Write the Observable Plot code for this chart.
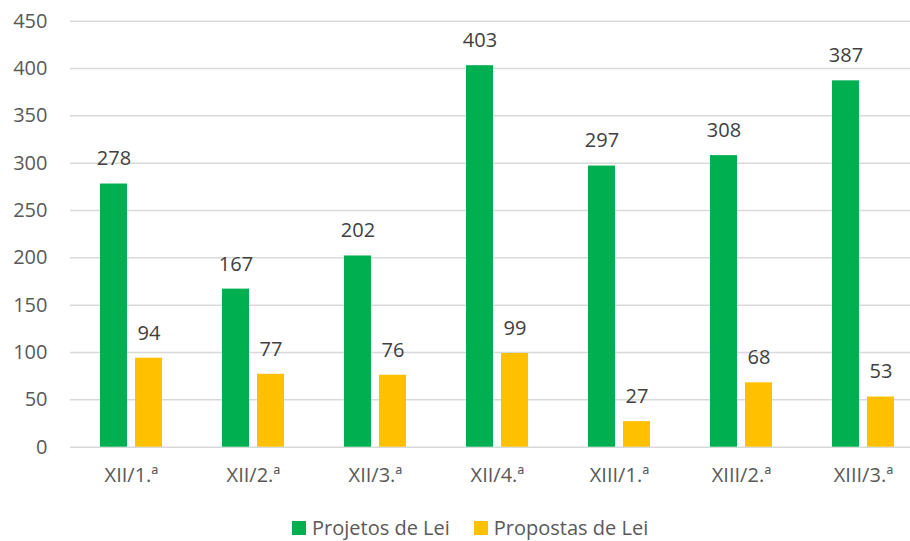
<!DOCTYPE html>
<html>
<head>
<meta charset="utf-8">
<script src="https://cdn.jsdelivr.net/npm/d3@7"></script>
<script src="https://cdn.jsdelivr.net/npm/@observablehq/plot@0.6"></script>
<style>
  body { margin: 0; background: #fff; font-family: "Open Sans", sans-serif; }
  #wrap { position: relative; width: 910px; height: 541px; overflow: hidden; }
  #legend { position: absolute; left: 292px; top: 515px; height: 26px; display: flex; align-items: center; font-size: 20px; line-height: 26px; color: #595959; white-space: nowrap; }
  #legend .sw { display: inline-block; width: 14px; height: 14px; margin-right: 6px; }
  #legend .item { display: flex; align-items: center; margin-right: 24px; }
</style>
</head>
<body>
<div id="wrap"><div id="chart"></div><div id="legend"></div></div>
<script>
const categories = ["XII/1.ª", "XII/2.ª", "XII/3.ª", "XII/4.ª", "XIII/1.ª", "XIII/2.ª", "XIII/3.ª"];
const projetos = [278, 167, 202, 403, 297, 308, 387];
const propostas = [94, 77, 76, 99, 27, 68, 53];
const seriesNames = ["Projetos de Lei", "Propostas de Lei"];
const seriesColors = ["#00B050", "#FFC000"];
const yTicks = [0, 50, 100, 150, 200, 250, 300, 350, 400, 450];

const projRows = categories.map((c, i) => ({cat: c, value: projetos[i]}));
const propRows = categories.map((c, i) => ({cat: c, value: propostas[i]}));

const textColor = "#404040";
const chart = Plot.plot({
  width: 910,
  height: 500,
  marginLeft: 70,
  marginRight: 0,
  marginTop: 20.7,
  marginBottom: 53.3,
  style: {fontFamily: "Open Sans, sans-serif", fontSize: "20px", color: "#595959", background: "#fff"},
  x: {domain: categories, range: [70, 924], padding: 0, label: null},
  y: {domain: [0, 450], label: null},
  marks: [
    Plot.ruleY(yTicks, {stroke: "#d9d9d9", strokeWidth: 1.5}),
    Plot.barY(projRows, {x: "cat", y: "value", fill: seriesColors[0], insetLeft: 30, insetRight: 65}),
    Plot.barY(propRows, {x: "cat", y: "value", fill: seriesColors[1], insetLeft: 65, insetRight: 30}),
    Plot.text(projRows, {x: "cat", y: "value", text: d => String(d.value), dx: -17.5, dy: -25, fontSize: 20, fill: textColor}),
    Plot.text(propRows, {x: "cat", y: "value", text: d => String(d.value), dx: 17.5, dy: -25, fontSize: 20, fill: textColor}),
    Plot.axisY({ticks: yTicks, tickSize: 0, tickPadding: 23, fontSize: 20, fill: "#595959", label: null}),
    Plot.axisX({tickSize: 0, tickPadding: 21, fontSize: 20, fill: "#595959", label: null})
  ]
});
document.getElementById("chart").appendChild(chart);

const legend = document.getElementById("legend");
seriesNames.forEach((n, i) => {
  const item = document.createElement("div");
  item.className = "item";
  const sw = document.createElement("span");
  sw.className = "sw";
  sw.style.background = seriesColors[i];
  item.appendChild(sw);
  item.appendChild(document.createTextNode(n));
  legend.appendChild(item);
});
</script>
</body>
</html>
